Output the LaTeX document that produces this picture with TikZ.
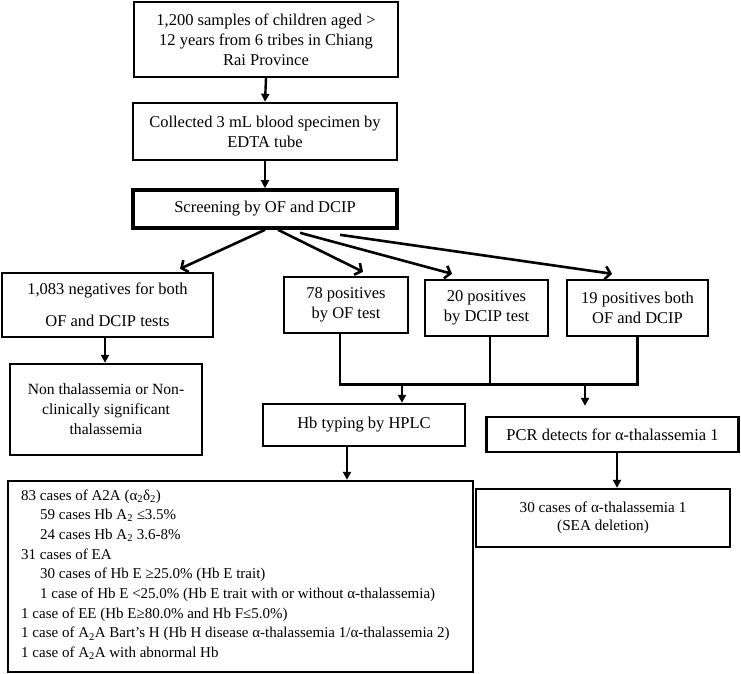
\documentclass[tikz,border=0pt]{standalone}
\usepackage{fontspec}
\setmainfont{Liberation Serif}
\usetikzlibrary{arrows.meta,calc}
\begin{document}
\begin{tikzpicture}[x=1pt,y=-1pt,
  box/.style={draw, line width=2.4pt, align=center, inner sep=0pt, font=\fontsize{16.5}{20}\selectfont},
  conn/.style={line width=2.6pt},
  varrow/.style={line width=2.4pt, -{Triangle[length=8pt,width=8pt]}},
  darrow/.style={line width=2.6pt, -{Straight Barb[length=5pt,width=13pt,line width=2.6pt]}},
  rline/.style={anchor=base west, inner sep=0pt, font=\fontsize{15}{19.7}\selectfont}]
\useasboundingbox (0,0) rectangle (741,673);
\node[box, minimum width=264pt, minimum height=75pt] (b1) at (266,39.5)
  {1,200 samples of children aged >\\12 years from 6 tribes in Chiang\\Rai Province};
\node[box, minimum width=264pt, minimum height=57pt] (b2) at (265,131.5)
  {Collected 3 mL blood specimen by\\EDTA tube};
\node[box, line width=3.6pt, minimum width=264pt, minimum height=38pt] (scr) at (265,209)
  {Screening by OF and DCIP};
\node[box, minimum width=211pt, minimum height=64pt] (neg) at (107.5,305)
  {1,083 negatives for both\\[12pt]OF and DCIP tests};
\node[box, minimum width=124pt, minimum height=56pt] (p78) at (346,305)
  {78 positives\\by OF test};
\node[box, minimum width=123pt, minimum height=56pt] (p20) at (486.5,308)
  {20 positives\\by DCIP test};
\node[box, minimum width=141pt, minimum height=56pt] (p19) at (637.5,308)
  {19 positives both\\OF and DCIP};
\node[box, font=\fontsize{15.6}{20}\selectfont, minimum width=192pt, minimum height=91pt] (non) at (106,409.5)
  {Non thalassemia or Non-\\clinically significant\\thalassemia};
\node[box, minimum width=202pt, minimum height=42pt] (hb) at (364,425)
  {Hb typing by HPLC};
\node[box, minimum width=252pt, minimum height=35pt] (pcr) at (612.5,434.5)
  {PCR detects for α-thalassemia 1};
\node[box, minimum width=465pt, minimum height=191pt] (res) at (240.5,576.5) {};
\node[box, font=\fontsize{15.2}{18.5}\selectfont, minimum width=254pt, minimum height=58pt] (sea) at (603,518)
  {30 cases of α-thalassemia 1\\(SEA deletion)};
% result lines
\node[rline] (r1) at (21,500) {83 cases of A2A (α\textsubscript{2}δ\textsubscript{2})};
\node[rline] (r2) at (40,519.7) {59 cases Hb A\textsubscript{2} ≤3.5\%};
\node[rline] (r3) at (40,539.4) {24 cases Hb A\textsubscript{2} 3.6-8\%};
\node[rline] (r4) at (21,559.1) {31 cases of EA};
\node[rline] (r5) at (40,578.8) {30 cases of Hb E ≥25.0\% (Hb E trait)};
\node[rline] (r6) at (40,598.5) {1 case of Hb E <25.0\% (Hb E trait with or without α-thalassemia)};
\node[rline] (r7) at (21,618.2) {1 case of EE (Hb E≥80.0\% and Hb F≤5.0\%)};
\node[rline] (r8) at (21,637.9) {1 case of A\textsubscript{2}A Bart’s H (Hb H disease α-thalassemia 1/α-thalassemia 2)};
\node[rline] (r9) at (21,657.6) {1 case of A\textsubscript{2}A with abnormal Hb};
% anchor coordinates for connectors
\coordinate (n1) at ($(neg.south)+(-2.5,0)$);
\coordinate (hh) at ($(hb.south)+(-17,0)$);
\coordinate (pp) at ($(pcr.south)+(4.5,0)$);
% vertical arrows
\draw[varrow] (b1.south) -- (b2.north);
\draw[varrow] (b2.south) -- (b2.south |- scr.north);
\draw[varrow] (n1) -- (n1 |- non.north);
\draw[varrow] (hh) -- (hh |- res.north);
\draw[varrow] (pp) -- (pp |- sea.north);
% diagonal arrows
\draw[darrow] (scr.south) -- ($(neg.north)+(72.5,-3)$);
\draw[darrow] ($(scr.south)+(13,0)$) -- ($(p78.north)+(17,-4)$);
\draw[darrow] ($(scr.south)+(35,3)$) -- ($(p20.north)+(-34.5,-5)$);
\draw[darrow] ($(scr.south)+(75,5)$) -- ($(p19.north)+(-25.5,-5)$);
% merge lines
\draw[conn] ($(p78.south)+(-6,0)$) -- ++(0,50) coordinate (mL) -- (mL -| p19.south) -- (p19.south);
\coordinate (m20) at ($(p20.south)+(3.5,0)$);
\draw[conn] (m20) -- (m20 |- mL);
\coordinate (h1) at ($(hb.north)+(38,0)$);
\coordinate (q1) at ($(pcr.north)+(-27.5,0)$);
\draw[varrow] (h1 |- mL) -- (h1);
\draw[varrow, shorten >=10pt] (q1 |- mL) -- (q1);
\end{tikzpicture}
\end{document}
